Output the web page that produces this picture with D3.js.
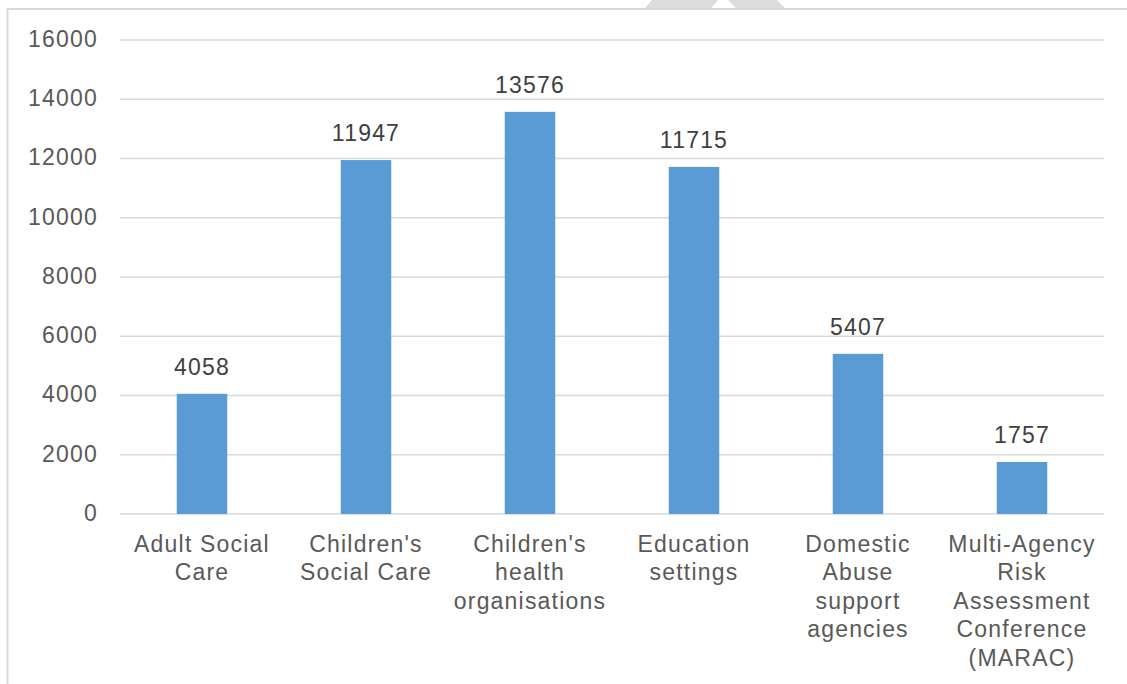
<!DOCTYPE html>
<html>
<head>
<meta charset="utf-8">
<script src="https://cdn.jsdelivr.net/npm/d3@7"></script>
<style>
  body { margin: 0; background: #fff; }
  svg text { font-family: "Liberation Sans", Arial, sans-serif; }
</style>
</head>
<body>
<div id="chart"></div>
<script>
// category labels, with the line breaks the original uses
let categories = [
    "Adult Social\nCare",
    "Children's\nSocial Care",
    "Children's\nhealth\norganisations",
    "Education\nsettings",
    "Domestic\nAbuse\nsupport\nagencies",
    "Multi-Agency\nRisk\nAssessment\nConference\n(MARAC)"
];
let values = [4058, 11947, 13576, 11715, 5407, 1757];
let yTicks = [0, 2000, 4000, 6000, 8000, 10000, 12000, 14000, 16000];

let width = 1127, height = 684;
let margin = { top: 40, right: 23, bottom: 170, left: 120 };
let fontSize = 23, spacing = 1.2;

let svg = d3.select("#chart").append("svg")
    .attr("width", width)
    .attr("height", height);

// faint frame of the original page
svg.append("path")
    .attr("d", "M7.5,684 V9 H1127")
    .attr("fill", "none")
    .attr("stroke", "#d9d9d9")
    .attr("stroke-width", 2);

// bit of grey shape cut off at the top edge
svg.append("path")
    .attr("d", "M645,8 L652,0 L718,0 L711,8 Z M736,8 L728,0 L777,0 L785,8 Z")
    .attr("fill", "#dcdcdc");

let x = d3.scaleBand()
    .domain(categories)
    .range([margin.left, width - margin.right])
    .paddingInner(0.692)
    .paddingOuter(0.346);

let y = d3.scaleLinear()
    .domain([0, 16000])
    .range([514, margin.top]);

// gridlines
svg.append("g")
    .selectAll("line")
    .data(yTicks)
    .enter().append("line")
    .attr("x1", margin.left)
    .attr("x2", width - margin.right)
    .attr("y1", d => y(d))
    .attr("y2", d => y(d))
    .attr("stroke", "#d9d9d9")
    .attr("stroke-width", 1.5);

// y tick labels
let yAxis = d3.axisLeft(y)
    .tickValues(yTicks)
    .tickFormat(d3.format("d"))
    .tickSize(0)
    .tickPadding(0);

let gy = svg.append("g")
    .attr("transform", "translate(98,-1)")
    .call(yAxis);
gy.select(".domain").remove();
gy.selectAll("text")
    .attr("font-size", fontSize)
    .attr("letter-spacing", spacing)
    .attr("fill", "#595959")
    .attr("font-family", "Liberation Sans, Arial, sans-serif");

// bars
svg.append("g")
    .selectAll("rect")
    .data(values)
    .enter().append("rect")
    .attr("x", (d, i) => x(categories[i]))
    .attr("width", x.bandwidth())
    .attr("y", d => y(d))
    .attr("height", d => y(0) - y(d))
    .attr("fill", "#5b9bd5");

// value labels
svg.append("g")
    .selectAll("text")
    .data(values)
    .enter().append("text")
    .attr("x", (d, i) => x(categories[i]) + x.bandwidth() / 2)
    .attr("y", d => y(d) - 19)
    .attr("text-anchor", "middle")
    .attr("font-size", fontSize)
    .attr("letter-spacing", spacing)
    .attr("fill", "#404040")
    .text(d => d);

// category labels
let cat = svg.append("g")
    .selectAll("text")
    .data(categories)
    .enter().append("text")
    .attr("text-anchor", "middle")
    .attr("font-size", fontSize)
    .attr("letter-spacing", spacing)
    .attr("fill", "#595959");

cat.each(function(d) {
    let t = d3.select(this);
    let cx = x(d) + x.bandwidth() / 2;
    d.split("\n").forEach((line, i) => {
        t.append("tspan")
            .attr("x", cx)
            .attr("y", 551.5 + i * 28.5)
            .text(line);
    });
});
</script>
</body>
</html>
